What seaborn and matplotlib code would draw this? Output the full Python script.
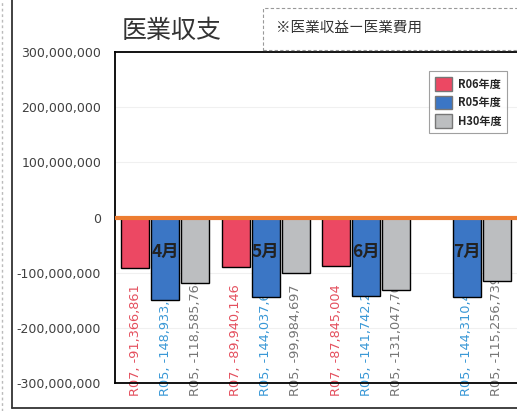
import matplotlib
matplotlib.use("Agg")
import matplotlib.pyplot as plt
import seaborn as sns
import pandas as pd
import numpy as np
from matplotlib.patches import Rectangle
from matplotlib.lines import Line2D

# data
months = ["4月", "5月", "6月", "7月"]
series = ["R06年度", "R05年度", "H30年度"]
label_tags = ["R07", "R05", "R05"]
r06 = [-91366861, -89940146, -87845004, np.nan]
r05 = [-148933412, -144037615, -141742236, -144310458]
h30 = [-118585768, -99984697, -131047704, -115256739]
yticks = [300000000, 200000000, 100000000, 0, -100000000, -200000000, -300000000]

colors = ["#ec4863", "#3b76c5", "#bcbec0"]
label_colors = ["#e4505e", "#3a98d6", "#767676"]

rows = []
for s, vals in zip(series, [r06, r05, h30]):
    for m, v in zip(months, vals):
        rows.append({"month": m, "series": s, "value": v})
df = pd.DataFrame(rows)

sns.set_style("white")
plt.rcParams["font.family"] = ["Noto Sans CJK JP", "DejaVu Sans"]

fig = plt.figure(figsize=(5.17, 4.11), dpi=100)
ax = fig.add_axes([0.2224, 0.0681, 0.7776, 0.8054])

sns.barplot(data=df, x="month", y="value", hue="series", order=months,
            hue_order=series, palette=colors, width=0.9, gap=0.07,
            edgecolor="black", linewidth=1.0, saturation=1, ax=ax, zorder=3)

ax.set_ylim(-300000000, 300000000)
ax.set_xlim(-0.5, 3.5)
ax.set_yticks(yticks)
ax.set_yticklabels([f"{t:,}" for t in yticks], fontsize=9, color="#404040",
                   family="DejaVu Sans")
ax.tick_params(axis="y", length=0, pad=10)
ax.set_xticks([])
ax.set_xlabel("")
ax.set_ylabel("")
for t in yticks:
    if t not in (0, 300000000, -300000000):
        ax.axhline(t, color="#f0f0f0", lw=0.8, zorder=0)
ax.axhline(0, color="#ed7d31", lw=3, zorder=4)
for sp in ax.spines.values():
    sp.set_color("black")
    sp.set_linewidth(1.3)
ax.spines["right"].set_visible(False)

# data labels, hidden behind the bars like the original
offsets = [-0.3, 0.0, 0.3]
for k, vals in enumerate([r06, r05, h30]):
    for i, v in enumerate(vals):
        if np.isnan(v):
            continue
        ax.text(i + offsets[k], -324000000, f"{label_tags[k]}, {int(v):,}",
                rotation=90, ha="center", va="bottom", fontsize=9.3,
                color=label_colors[k], zorder=1, clip_on=False,
                family="DejaVu Sans")

for i, m in enumerate(months):
    ax.text(i, -63000000, m, ha="center", va="center", fontsize=12.5,
            fontweight="bold", color="#222222", zorder=5)

handles, labels = ax.get_legend_handles_labels()
leg = ax.legend(handles, labels, loc="upper right", bbox_to_anchor=(0.99, 0.958),
                frameon=True, fancybox=False, handlelength=1.5,
                handleheight=1.5, labelspacing=0.45, borderpad=0.5,
                handletextpad=0.6, prop={"weight": "bold", "size": 8})
leg.get_frame().set_edgecolor("#888888")
leg.get_frame().set_linewidth(0.8)
for h in leg.legend_handles:
    h.set_edgecolor("#777777")

fig.text(0.236, 0.925, "医業収支", fontsize=18, color="#333333", va="center")
fig.patches.append(Rectangle((0.5087, 0.878), 0.5, 0.1025, transform=fig.transFigure,
                             fill=False, edgecolor="#999999", lw=0.8, linestyle=(0, (3, 2))))
fig.text(0.534, 0.932, "※医業収益ー医業費用", fontsize=10.5, color="#333333", va="center")

fig.lines.append(Line2D([0.024, 0.024], [0.0073, 1.0], transform=fig.transFigure,
                        color="#333333", lw=1.3))
fig.lines.append(Line2D([0.024, 1.0], [0.0073, 0.0073], transform=fig.transFigure,
                        color="#333333", lw=1.3))
fig.lines.append(Line2D([0.004, 0.004], [0.0, 1.0], transform=fig.transFigure,
                        color="#bbbbbb", lw=1, linestyle=(0, (2, 2))))

fig.savefig("out.png", dpi=100)
